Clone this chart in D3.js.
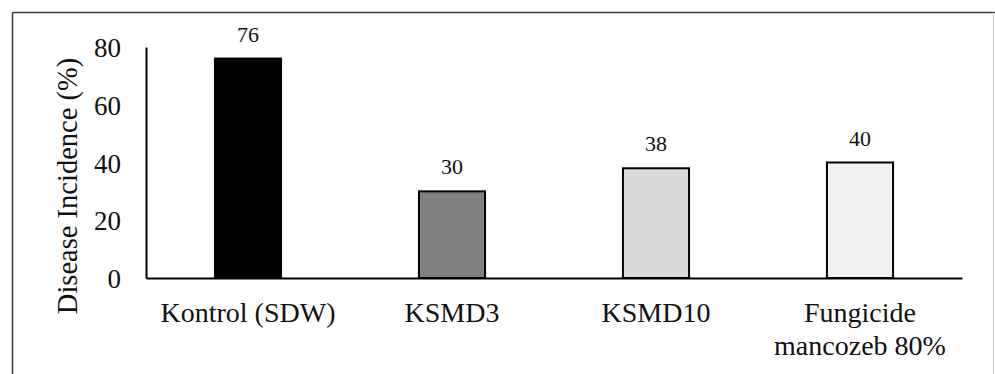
<!DOCTYPE html>
<html>
<head>
<meta charset="utf-8">
<script src="https://cdn.jsdelivr.net/npm/d3@7"></script>
<style>
  html, body { margin: 0; padding: 0; background: #fff; }
  svg { display: block; }
</style>
</head>
<body>
<svg id="chart" width="995" height="374"></svg>
<script>
const categories = ["Kontrol (SDW)", "KSMD3", "KSMD10", "Fungicide\nmancozeb 80%"];
const values = [76, 30, 38, 40];
const barColors = ["#000000", "#808080", "#d9d9d9", "#f2f2f2"];
const yTicks = [0, 20, 40, 60, 80];
const yTitle = "Disease Incidence (%)";

const SERIF = "Liberation Serif";
const svg = d3.select("#chart");

// outer frame
svg.append("line").attr("x1", 12.5).attr("y1", 12.5).attr("x2", 995).attr("y2", 12.5)
  .attr("stroke", "#3a3a3a").attr("stroke-width", 1.5);
svg.append("line").attr("x1", 12.5).attr("y1", 12.5).attr("x2", 12.5).attr("y2", 374)
  .attr("stroke", "#3a3a3a").attr("stroke-width", 1.5);
svg.append("line").attr("x1", 993.5).attr("y1", 12.5).attr("x2", 993.5).attr("y2", 374)
  .attr("stroke", "#d0d0d0").attr("stroke-width", 1);

const x = d3.scaleBand().domain(categories).range([146, 962])
  .paddingInner(0.676).paddingOuter(0.338);
const y = d3.scaleLinear().domain([0, 80]).range([278, 47]);

// bars
svg.append("g").selectAll("rect").data(categories).join("rect")
  .attr("x", d => x(d))
  .attr("y", (d, i) => y(values[i]))
  .attr("width", x.bandwidth())
  .attr("height", (d, i) => y(0) - y(values[i]))
  .attr("fill", (d, i) => barColors[i])
  .attr("stroke", "#000")
  .attr("stroke-width", 2);

// value labels
svg.append("g").selectAll("text").data(categories).join("text")
  .attr("x", d => x(d) + x.bandwidth() / 2)
  .attr("y", (d, i) => y(values[i]) - 17)
  .attr("text-anchor", "middle")
  .attr("font-family", SERIF)
  .attr("font-size", 22)
  .attr("fill", "#111")
  .text((d, i) => values[i]);

// y axis
const yAxis = d3.axisLeft(y).tickValues(yTicks).tickSize(0).tickPadding(25);
const gy = svg.append("g").attr("transform", "translate(146,0)").call(yAxis);
gy.attr("font-family", SERIF).attr("font-size", 27);
gy.select(".domain").attr("stroke", "#000").attr("stroke-width", 2);
gy.selectAll("text").attr("fill", "#111").attr("dy", "0.36em");

// x axis
const xAxis = d3.axisBottom(x).tickSize(0).tickFormat("");
const gx = svg.append("g").attr("transform", "translate(0,278)").call(xAxis);
gx.select(".domain").attr("stroke", "#000").attr("stroke-width", 2);

// category labels (one text element per line)
const catLines = [];
categories.forEach(c => c.split("\n").forEach((ln, j) => catLines.push({ c, ln, j })));
svg.append("g").selectAll("text").data(catLines).join("text")
  .attr("text-anchor", "middle")
  .attr("font-family", SERIF)
  .attr("font-size", 28)
  .attr("fill", "#111")
  .attr("x", d => x(d.c) + x.bandwidth() / 2)
  .attr("y", d => 322 + d.j * 33)
  .text(d => d.ln);

// y title
svg.append("text")
  .attr("transform", "translate(77,186) rotate(-90)")
  .attr("text-anchor", "middle")
  .attr("font-family", SERIF)
  .attr("font-size", 28.5)
  .attr("fill", "#111")
  .text(yTitle);
</script>
</body>
</html>
